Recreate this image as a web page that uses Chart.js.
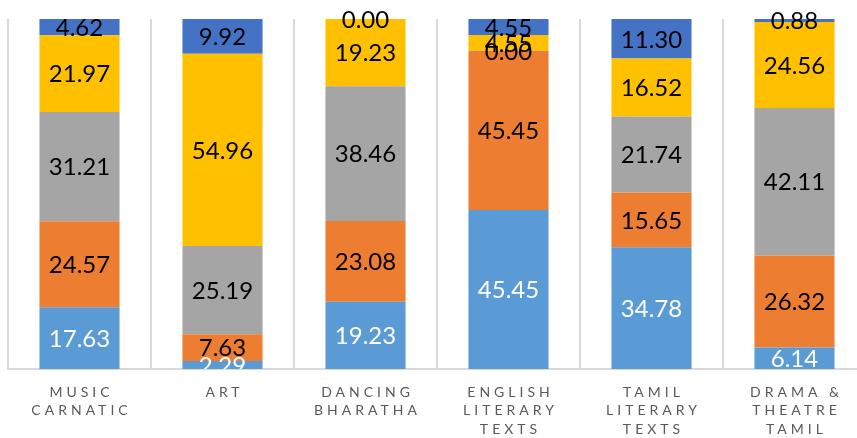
<!DOCTYPE html>
<html>
<head>
<meta charset="utf-8">
<script src="https://cdn.jsdelivr.net/npm/chart.js@4/dist/chart.umd.min.js"></script>
<style>
  html,body{margin:0;padding:0;background:#fff;overflow:hidden;}
  #wrap{width:866px;height:438px;}
</style>
</head>
<body>
<div id="wrap"><canvas id="chart" width="866" height="438"></canvas></div>
<script>
/* categories (multi-line tick labels) */
const categories = [
  ['MUSIC','CARNATIC'],
  ['ART'],
  ['DANCING','BHARATHA'],
  ['ENGLISH','LITERARY','TEXTS'],
  ['TAMIL','LITERARY','TEXTS'],
  ['DRAMA &','THEATRE','TAMIL']
];

/* series, bottom to top */
const series1 = [17.63, 2.29, 19.23, 45.45, 34.78, 6.14];
const series2 = [24.57, 7.63, 23.08, 45.45, 15.65, 26.32];
const series3 = [31.21, 25.19, 38.46, 0.00, 21.74, 42.11];
const series4 = [21.97, 54.96, 19.23, 4.55, 16.52, 24.56];
const series5 = [4.62, 9.92, 0.00, 4.55, 11.30, 0.88];

const colors = ['#5B9BD5','#ED7D31','#A5A5A5','#FFC000','#4472C4'];
const labelColors = ['#ffffff','#000000','#000000','#000000','#000000'];

/* letter-spaced axis labels: spacing on while scales draw, off for bars */
const spacing = {
  id:'spacing',
  beforeDraw(chart){ chart.ctx.letterSpacing = '4px'; },
  beforeDatasetsDraw(chart){ chart.ctx.letterSpacing = '0px'; }
};

/* value labels in the middle of each segment */
const valueLabels = {
  id:'valueLabels',
  afterDatasetsDraw(chart){
    const ctx = chart.ctx, area = chart.chartArea;
    ctx.save();
    ctx.letterSpacing = '0px';
    ctx.beginPath();
    ctx.rect(0, 0, chart.width, area.bottom);
    ctx.clip();
    ctx.font = '24px Lato, "Open Sans", sans-serif';
    ctx.textAlign = 'center';
    ctx.textBaseline = 'middle';
    chart.data.datasets.forEach((ds,i)=>{
      const meta = chart.getDatasetMeta(i);
      ctx.fillStyle = labelColors[i];
      meta.data.forEach((bar,j)=>{
        const y = (bar.y + bar.base)/2;
        ctx.fillText(ds.data[j].toFixed(2), bar.x, y + 1);
      });
    });
    ctx.restore();
  }
};

new Chart(document.getElementById('chart'), {
  type:'bar',
  data:{
    labels: categories,
    datasets:[series1,series2,series3,series4,series5].map((d,i)=>({
      data:d, backgroundColor:colors[i], borderWidth:0,
      categoryPercentage:1, barPercentage:0.56
    }))
  },
  options:{
    responsive:false,
    animation:false,
    devicePixelRatio:1,
    layout:{padding:{left:8, right:0, top:19, bottom:0}},
    plugins:{legend:{display:false}, tooltip:{enabled:false}},
    scales:{
      x:{
        stacked:true,
        afterFit(scale){ scale.height = 69; },
        grid:{color:'#d9d9d9', lineWidth:2, drawTicks:false, offset:true},
        border:{color:'#d9d9d9', width:2},
        ticks:{
          color:'#595959', autoSkip:false, maxRotation:0, padding:14, labelOffset:2,
          font:{family:'Lato, "Open Sans", sans-serif', size:14, lineHeight:1.32}
        }
      },
      y:{stacked:true, display:false, min:0, max:100}
    }
  },
  plugins:[spacing, valueLabels]
});
</script>
</body>
</html>
